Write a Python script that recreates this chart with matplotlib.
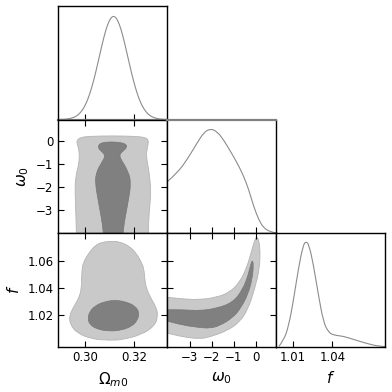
import matplotlib
matplotlib.use("Agg")
import matplotlib.pyplot as plt
from matplotlib.path import Path
from matplotlib.patches import PathPatch

# ---------------- data ----------------
param_labels = [r"$\Omega_{m0}$", r"$\omega_0$", r"$f$"]
om_lim = (0.289, 0.3334)
w0_lim = (-4.02, 0.92)
f_lim = (0.9972, 1.0806)
om_ticks = [0.30, 0.32]
w0_ticks = [-3, -2, -1, 0]
f_yticks = [1.02, 1.04, 1.06]
f_xticks = [1.01, 1.04]

# 1D marginals (normalised to peak = 1)
om_grid = [0.289, 0.290, 0.291, 0.292, 0.293, 0.294, 0.295, 0.296, 0.297, 0.298,
           0.299, 0.300, 0.301, 0.302, 0.303, 0.304, 0.305, 0.306, 0.307, 0.308,
           0.309, 0.310, 0.311, 0.312, 0.313, 0.314, 0.315, 0.316, 0.317, 0.318,
           0.319, 0.320, 0.321, 0.322, 0.323, 0.324, 0.325, 0.326, 0.327, 0.328,
           0.329, 0.330, 0.331, 0.332, 0.333]
om_dens = [0.0005, 0.001, 0.002, 0.0035, 0.006, 0.011, 0.018, 0.028, 0.044, 0.067,
           0.098, 0.140, 0.194, 0.262, 0.342, 0.433, 0.534, 0.638, 0.740, 0.834,
           0.911, 0.967, 0.996, 0.996, 0.967, 0.911, 0.834, 0.740, 0.638, 0.534,
           0.433, 0.342, 0.262, 0.194, 0.140, 0.098, 0.067, 0.044, 0.028, 0.018,
           0.011, 0.006, 0.0035, 0.002, 0.001]

w0_grid = [-4.0, -3.57, -3.12, -2.67, -2.37, -2.07, -1.76, -1.47, -1.16, -0.86,
           -0.56, -0.33, -0.11, 0.12, 0.34, 0.65, 0.92]
w0_dens = [0.50, 0.58, 0.71, 0.87, 0.97, 1.01, 0.98, 0.90, 0.79, 0.68,
           0.55, 0.42, 0.26, 0.13, 0.05, 0.01, 0.0]

f_grid = [0.9991, 1.0029, 1.0067, 1.0105, 1.0142, 1.0176, 1.0198, 1.0223, 1.0256,
          1.0294, 1.0332, 1.0370, 1.0408, 1.0483, 1.0559, 1.0661, 1.0761, 1.0806]
f_dens = [0.0, 0.06, 0.20, 0.46, 0.76, 0.97, 1.02, 0.98, 0.79,
          0.50, 0.24, 0.14, 0.11, 0.10, 0.07, 0.03, 0.0, 0.0]

# 2D contours (outer = 95%, inner = 68%)
om_w0_outer_om = [0.2965, 0.2962, 0.2958, 0.2960, 0.2974, 0.2976, 0.2972, 0.2965, 0.2968,
                  0.2985, 0.3020, 0.3110, 0.3200, 0.3245, 0.3257, 0.3256, 0.3249, 0.3250,
                  0.3262, 0.3267, 0.3262, 0.3258, 0.3256]
om_w0_outer_w0 = [-4.6, -3.3, -2.2, -1.6, -1.0, -0.6, -0.3, -0.1, 0.05,
                  0.15, 0.19, 0.21, 0.19, 0.14, 0.02, -0.15, -0.5, -0.8,
                  -1.5, -2.2, -3.0, -3.4, -4.6]
om_w0_inner_om = [0.3076, 0.3073, 0.3056, 0.3039, 0.3046, 0.3053, 0.3070, 0.3080, 0.3075,
                  0.3060, 0.3053, 0.3055, 0.3070, 0.3107, 0.3145, 0.3168, 0.3168, 0.3158,
                  0.3143, 0.3140, 0.3150, 0.3168, 0.3188, 0.3172, 0.3154, 0.3152]
om_w0_inner_w0 = [-4.6, -3.83, -2.81, -1.78, -1.4, -1.2, -0.9, -0.69, -0.55,
                  -0.42, -0.3, -0.17, -0.08, -0.05, -0.08, -0.17, -0.3, -0.42,
                  -0.55, -0.69, -0.9, -1.2, -1.78, -2.81, -3.83, -4.6]

om_f_outer_om = [0.3066, 0.3107, 0.3141, 0.3181, 0.3208, 0.3228, 0.3239, 0.3242, 0.3249,
                 0.3269, 0.3289, 0.3296, 0.3283, 0.3228, 0.3150, 0.3100, 0.3026, 0.2965,
                 0.2938, 0.2935, 0.2951, 0.2972, 0.2985, 0.2985, 0.2992, 0.3019, 0.3040]
om_f_outer_f = [1.0738, 1.0746, 1.0741, 1.0707, 1.0656, 1.0593, 1.0543, 1.0469, 1.0395,
                1.0321, 1.0259, 1.0198, 1.0124, 1.0058, 1.0022, 1.0017, 1.0027, 1.0072,
                1.0136, 1.0198, 1.0259, 1.0321, 1.0395, 1.0519, 1.0595, 1.0670, 1.0713]
om_f_inner_om = [0.3010, 0.3018, 0.3039, 0.3073, 0.3121, 0.3168, 0.3203, 0.3220, 0.3213,
                 0.3191, 0.3147, 0.3093, 0.3046, 0.3018]
om_f_inner_f = [1.0178, 1.0229, 1.0269, 1.0299, 1.0314, 1.0299, 1.0269, 1.0222, 1.0166,
                1.0122, 1.0091, 1.0084, 1.0101, 1.0134]

w0_f_outer_w0 = [-4.5, -4.06, -3.30, -2.55, -1.80, -1.19, -0.74, -0.44, -0.21, -0.06,
                 0.05, 0.14, 0.19, 0.16, -0.06, -0.36, -0.74, -1.34, -2.10, -2.55,
                 -3.30, -4.06, -4.5]
w0_f_outer_f = [1.0337, 1.0335, 1.0321, 1.0316, 1.0333, 1.0370, 1.0445, 1.0543, 1.0667, 1.0755,
                1.0782, 1.0744, 1.0667, 1.0543, 1.0395, 1.0247, 1.0151, 1.0085, 1.0042, 1.0028,
                1.0042, 1.0072, 1.0076]
w0_f_inner_w0 = [-4.5, -4.06, -3.30, -2.55, -1.80, -1.04, -0.59, -0.36, -0.21, -0.17,
                 -0.11, -0.17, -0.36, -0.67, -1.04, -1.65, -2.10, -2.55, -3.30, -4.06, -4.5]
w0_f_inner_f = [1.0243, 1.0242, 1.0242, 1.0235, 1.0252, 1.0296, 1.0395, 1.0494, 1.0593, 1.0602,
                1.0580, 1.0469, 1.0358, 1.0259, 1.0185, 1.0124, 1.0106, 1.0111, 1.0128, 1.0161,
                1.0165]

# ---------------- styling ----------------
LIGHT = "#c9c9c9"
DARK = "#808080"
LINE = "#8c8c8c"

plt.rcParams["font.family"] = ["DejaVu Sans"]
fig = plt.figure(figsize=(3.92, 3.92), dpi=100)

W = 109 / 392
H = 113.5 / 392
lefts = [58.3 / 392, 167.3 / 392, 276.3 / 392]
bottoms = [1 - 119.5 / 392, 1 - 233 / 392, 1 - 346.5 / 392]

lims = [om_lim, w0_lim, f_lim]
xticks = [om_ticks, w0_ticks, f_xticks]
yticks = [om_ticks, w0_ticks, f_yticks]
fmt = ["{:.2f}", "{:g}", "{:.2f}"]


def mid(a, b):
    return ((a[0] + b[0]) / 2, (a[1] + b[1]) / 2)


def smooth_closed_path(xs, ys):
    pts = list(zip(xs, ys))
    n = len(pts)
    mids = [mid(pts[i], pts[(i + 1) % n]) for i in range(n)]
    verts = [mids[-1]]
    codes = [Path.MOVETO]
    for i in range(n):
        verts += [pts[i], mids[i]]
        codes += [Path.CURVE3, Path.CURVE3]
    verts.append(mids[-1])
    codes.append(Path.CLOSEPOLY)
    return Path(verts, codes)


def smooth_open_path(xs, ys):
    pts = list(zip(xs, ys))
    n = len(pts)
    verts = [pts[0]]
    codes = [Path.MOVETO]
    for i in range(1, n - 1):
        end = mid(pts[i], pts[i + 1]) if i < n - 2 else pts[n - 1]
        verts += [pts[i], end]
        codes += [Path.CURVE3, Path.CURVE3]
    return Path(verts, codes)


axes = {}
for r in range(3):
    for c in range(r + 1):
        ax = fig.add_axes([lefts[c], bottoms[r], W, H])
        axes[(r, c)] = ax
        for s in ax.spines.values():
            s.set_linewidth(1.0)
        ax.set_xlim(lims[c])
        ax.set_xticks(xticks[c])
        if r == c:
            ax.set_ylim(0, 1.097)
            ax.set_yticks([])
            ax.tick_params(axis="x", direction="in", top=False, bottom=True,
                           length=4, width=0.8, labelsize=8.5)
        else:
            ax.set_ylim(lims[r])
            ax.set_yticks(yticks[r])
            ax.tick_params(direction="in", top=True, bottom=True, left=True, right=True,
                           length=4, width=0.8, labelsize=8.5)
        if r == 2:
            ax.set_xticklabels([fmt[c].format(v).replace("-", "\u2212") for v in xticks[c]])
            ax.set_xlabel(param_labels[c], fontsize=11)
        else:
            ax.set_xticklabels([])
        if c == 0 and r > 0:
            ax.set_yticklabels([fmt[r].format(v).replace("-", "\u2212") for v in yticks[r]])
            ax.set_ylabel(param_labels[r], fontsize=11)
        elif r != c:
            ax.set_yticklabels([])

# diagonals
for key, gx, gy in [((0, 0), om_grid, om_dens), ((1, 1), w0_grid, w0_dens),
                    ((2, 2), f_grid, f_dens)]:
    axes[key].add_patch(PathPatch(smooth_open_path(gx, gy), facecolor="none",
                                  edgecolor=LINE, lw=0.8))
axes[(0, 0)].spines["bottom"].set_color(DARK)
axes[(0, 0)].spines["bottom"].set_linewidth(1.6)
axes[(1, 1)].spines["top"].set_color(DARK)
axes[(1, 1)].spines["top"].set_linewidth(1.6)


# 2D panels
def contour_pair(ax, ox, oy, ix, iy):
    ax.add_patch(PathPatch(smooth_closed_path(ox, oy), facecolor=LIGHT,
                           edgecolor="#b4b4b4", lw=0.6, zorder=1))
    ax.add_patch(PathPatch(smooth_closed_path(ix, iy), facecolor=DARK,
                           edgecolor="#777777", lw=0.5, zorder=2))


contour_pair(axes[(1, 0)], om_w0_outer_om, om_w0_outer_w0, om_w0_inner_om, om_w0_inner_w0)
contour_pair(axes[(2, 0)], om_f_outer_om, om_f_outer_f, om_f_inner_om, om_f_inner_f)
contour_pair(axes[(2, 1)], w0_f_outer_w0, w0_f_outer_f, w0_f_inner_w0, w0_f_inner_f)

fig.savefig("out.png", dpi=100)
